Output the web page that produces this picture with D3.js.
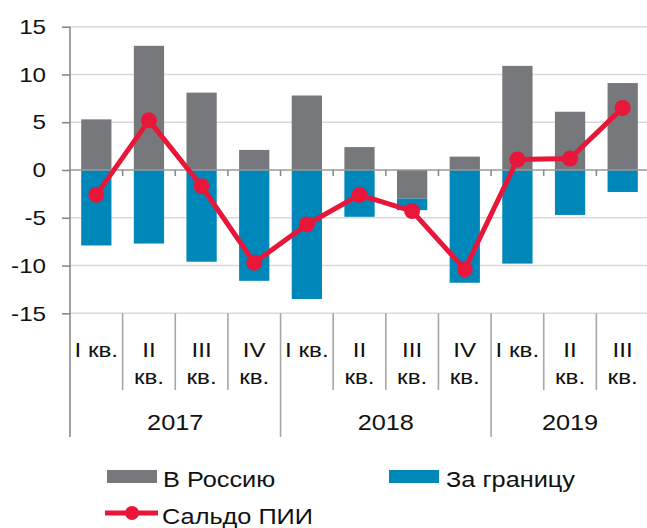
<!DOCTYPE html>
<html lang="ru">
<head>
<meta charset="utf-8">
<script src="https://cdn.jsdelivr.net/npm/d3@7"></script>
<style>
  html, body { margin: 0; padding: 0; background: #fff; }
  svg { display: block; }
  text { font-family: "Liberation Sans", Arial, sans-serif; fill: #111; }
</style>
</head>
<body>
<svg id="chart" width="647" height="528"></svg>
<script>
// Quarterly direct investment flows, bn USD
const quarters = ["I кв.", "II\nкв.", "III\nкв.", "IV\nкв.",
                  "I кв.", "II\nкв.", "III\nкв.", "IV\nкв.",
                  "I кв.", "II\nкв.", "III\nкв."];
const years = ["2017", "2018", "2019"];
const yearSpans = [4, 4, 3];
const inflow  = [5.3, 13.0, 8.1, 2.1, 7.8, 2.4, -3.0, 1.4, 10.9, 6.1, 9.1];     // В Россию
const outflow = [-7.9, -7.7, -9.6, -11.6, -13.5, -4.9, -1.2, -11.8, -9.8, -4.7, -2.3]; // За границу
const balance = [-2.6, 5.2, -1.7, -9.7, -5.7, -2.6, -4.3, -10.4, 1.1, 1.2, 6.5]; // Сальдо ПИИ
const yTicks = [-15, -10, -5, 0, 5, 10, 15];
const seriesNames = ["В Россию", "За границу", "Сальдо ПИИ"];

const colors = { inflow: "#77787b", outflow: "#0087ba", balance: "#e8173a" };
const TEXT_STRETCH = 1.15;   // wide-set lettering

const svg = d3.select("#chart");
const plotLeft = 70, plotRight = 649, plotTop = 26.7, plotBottom = 313.3;

const idx = d3.range(quarters.length);
const x = d3.scaleBand().domain(idx).range([plotLeft, plotRight]).padding(0);
const y = d3.scaleLinear().domain([-15, 15]).range([plotBottom, plotTop]);
const barW = x.bandwidth() * 0.575;

// widen glyphs horizontally while keeping the anchor
function stretch(sel) {
  sel.each(function () {
    const w = this.getComputedTextLength();
    if (w > 0) {
      d3.select(this)
        .attr("textLength", w * TEXT_STRETCH)
        .attr("lengthAdjust", "spacingAndGlyphs");
    }
  });
}

// gridlines
svg.append("g")
  .selectAll("line")
  .data(yTicks.filter(d => d !== 0))
  .join("line")
  .attr("x1", plotLeft).attr("x2", 647)
  .attr("y1", d => y(d)).attr("y2", d => y(d))
  .attr("stroke", "#d9d9d9").attr("stroke-width", 1.6);

// stacked bars (diverging)
const rows = idx.map(i => ({ i, inflow: inflow[i], outflow: outflow[i] }));
const stack = d3.stack().keys(["inflow", "outflow"]).offset(d3.stackOffsetDiverging);
const stacked = stack(rows);

svg.append("g")
  .selectAll("g")
  .data(stacked)
  .join("g")
  .attr("fill", s => colors[s.key])
  .selectAll("rect")
  .data(s => s)
  .join("rect")
  .attr("x", d => x(d.data.i) + (x.bandwidth() - barW) / 2)
  .attr("width", barW)
  .attr("y", d => y(Math.max(d[0], d[1])))
  .attr("height", d => Math.abs(y(d[0]) - y(d[1])));

// zero line with category ticks
const y0 = y(0);
svg.append("line")
  .attr("x1", plotLeft).attr("x2", 647)
  .attr("y1", y0).attr("y2", y0)
  .attr("stroke", "#9a9a9a").attr("stroke-width", 1.6);
svg.append("g")
  .selectAll("line")
  .data(idx.slice(1))
  .join("line")
  .attr("x1", d => x(d)).attr("x2", d => x(d))
  .attr("y1", y0).attr("y2", y0 + 6)
  .attr("stroke", "#8a8a8a").attr("stroke-width", 1.6);

// y axis
const yAxis = svg.append("g")
  .attr("transform", `translate(${plotLeft},0)`)
  .call(d3.axisLeft(y).tickValues(yTicks).tickSize(8).tickPadding(16).tickFormat(d3.format("d")));
yAxis.select(".domain").remove();
yAxis.selectAll(".tick line").attr("stroke", "#8a8a8a").attr("stroke-width", 1.6);
yAxis.selectAll("text")
  .attr("font-size", 21)
  .attr("font-family", "Liberation Sans, Arial, sans-serif")
  .attr("fill", "#111")
  .text(d => d < 0 ? "-" + Math.abs(d) : d)
  .call(stretch);

// vertical axis line down through the category area
svg.append("line")
  .attr("x1", plotLeft).attr("x2", plotLeft)
  .attr("y1", plotTop).attr("y2", 437)
  .attr("stroke", "#8a8a8a").attr("stroke-width", 1.6);

// category separators (quarters short, years long)
const yearStarts = yearSpans.reduce((a, n, k) => (a.push(k === 0 ? 0 : a[k - 1] + yearSpans[k - 1]), a), []);
svg.append("g")
  .selectAll("line")
  .data(idx.slice(1))
  .join("line")
  .attr("x1", d => x(d)).attr("x2", d => x(d))
  .attr("y1", plotBottom).attr("y2", d => yearStarts.includes(d) ? 437 : 390)
  .attr("stroke", "#a6a6a6").attr("stroke-width", 1.6);

// quarter labels
const qLab = svg.append("g").attr("font-size", 21);
idx.forEach(i => {
  const cx = x(i) + x.bandwidth() / 2;
  quarters[i].split("\n").forEach((ln, k) => {
    qLab.append("text")
      .attr("text-anchor", "middle")
      .attr("x", cx)
      .attr("y", 357 + k * 26.5)
      .text(ln);
  });
});
qLab.selectAll("text").call(stretch);

// year labels
svg.append("g")
  .selectAll("text")
  .data(years)
  .join("text")
  .attr("font-size", 22)
  .attr("text-anchor", "middle")
  .attr("x", (d, k) => {
    const a = x(yearStarts[k]);
    const b = x(yearStarts[k] + yearSpans[k] - 1) + x.bandwidth();
    return (a + b) / 2;
  })
  .attr("y", 430)
  .text(d => d)
  .call(stretch);

// balance line
const line = d3.line()
  .x((d, i) => x(i) + x.bandwidth() / 2)
  .y(d => y(d));
svg.append("path")
  .datum(balance)
  .attr("d", line)
  .attr("fill", "none")
  .attr("stroke", colors.balance)
  .attr("stroke-width", 5)
  .attr("stroke-linejoin", "round");
svg.append("g")
  .selectAll("circle")
  .data(balance)
  .join("circle")
  .attr("cx", (d, i) => x(i) + x.bandwidth() / 2)
  .attr("cy", d => y(d))
  .attr("r", 8)
  .attr("fill", colors.balance);

// legend
const lg = svg.append("g").attr("font-size", 22);
lg.append("rect").attr("x", 107).attr("y", 470).attr("width", 50).attr("height", 13).attr("fill", colors.inflow);
lg.append("text").attr("x", 163).attr("y", 487).text(seriesNames[0]);
lg.append("rect").attr("x", 389).attr("y", 470).attr("width", 50).attr("height", 13).attr("fill", colors.outflow);
lg.append("text").attr("x", 446).attr("y", 487).text(seriesNames[1]);
lg.append("line").attr("x1", 105).attr("x2", 158).attr("y1", 513).attr("y2", 513)
  .attr("stroke", colors.balance).attr("stroke-width", 5);
lg.append("circle").attr("cx", 132).attr("cy", 513).attr("r", 7).attr("fill", colors.balance);
lg.append("text").attr("x", 162).attr("y", 524).text(seriesNames[2]);
lg.selectAll("text").call(stretch);
</script>
</body>
</html>
